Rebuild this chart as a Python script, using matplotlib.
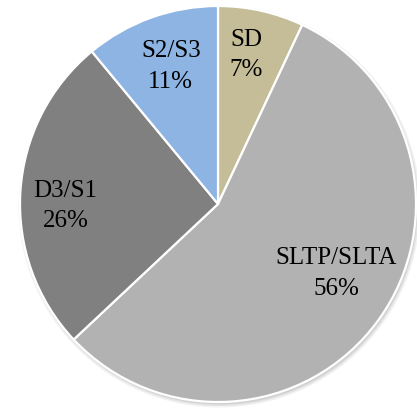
import numpy as np
import matplotlib
matplotlib.use("Agg")
import matplotlib.pyplot as plt
from matplotlib.patches import Circle

categories = ["SD", "SLTP/SLTA", "D3/S1", "S2/S3"]
values = [7, 56, 26, 11]
colors = ["#C4BD97", "#B2B2B2", "#808080", "#8DB4E2"]
label_r = [0.77, 0.69, 0.77, 0.74]
label_dang = [2.0, 6.0, 4.0, -1.0]

plt.rcParams['font.family'] = ['Liberation Serif', 'DejaVu Serif']

fig = plt.figure(figsize=(4.17, 4.14), dpi=100)
ax = fig.add_axes([0, 0, 1, 1])
cx, cy, R = 218, 209, 198

# soft shadow
for i, a in enumerate([0.05, 0.06, 0.08]):
    ax.add_patch(Circle((cx + 1.5, cy - 2.5), R + 3 - i * 1.5, color="black", alpha=a, lw=0, zorder=0))

wedges, _ = ax.pie(values, colors=colors, startangle=90, counterclock=False,
                   center=(cx, cy), radius=R,
                   wedgeprops=dict(edgecolor="white", linewidth=1.6, zorder=1),
                   frame=True)

total = sum(values)
for w, cat, v, rf, da in zip(wedges, categories, values, label_r, label_dang):
    mid = np.deg2rad((w.theta1 + w.theta2) / 2 + da)
    x = cx + rf * R * np.cos(mid)
    y = cy + rf * R * np.sin(mid)
    ax.text(x, y, f"{cat}\n{round(100 * v / total)}%", ha="center", va="center",
            fontsize=18, linespacing=1.5, color="black", zorder=3)

ax.set_xlim(0, 417)
ax.set_ylim(0, 414)
ax.set_aspect("equal")
ax.axis("off")
fig.savefig("out.png", dpi=100)
